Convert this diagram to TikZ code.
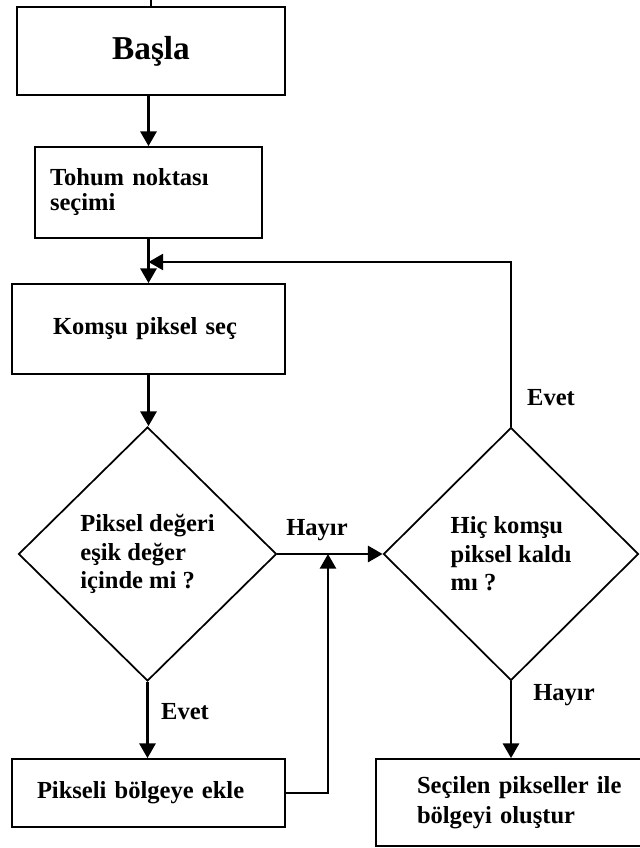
\documentclass[tikz,border=0pt]{standalone}
\usepackage{fontspec}
\setmainfont{Liberation Serif}
\usetikzlibrary{arrows.meta,shapes.geometric}
\begin{document}
\begin{tikzpicture}[x=0.75pt,y=-0.75pt,
  box/.style={draw, line width=1.3pt, inner sep=0pt, font=\bfseries\fontsize{18.4}{21}\selectfont},
  dia/.style={draw, diamond, line width=1.3pt, inner sep=0pt, align=left, font=\bfseries\fontsize{18.4}{21.4}\selectfont},
  conn/.style={line width=2pt, -{Triangle[width=12pt,length=11pt]}},
  lab/.style={font=\bfseries\fontsize{18.4}{21}\selectfont, inner sep=0pt}]
\useasboundingbox[fill=white] (0,0) rectangle (639,848);

% nodes
\node[box, minimum width=201pt, minimum height=66pt, font=\bfseries\fontsize{25}{30}\selectfont] (basla) at (151,51) {Başla};
\node[box, minimum width=170.25pt, minimum height=68.25pt, text width=147.75pt, align=left, font=\bfseries\fontsize{18.4}{18.75}\selectfont] (tohum) at (148.5,192.5) {Tohum noktası\\seçimi};
\node[box, minimum width=204.75pt, minimum height=67.5pt, text width=143.25pt, align=left] (komsu) at (148.5,329) {Komşu piksel seç};
\node[dia, minimum width=193.5pt, minimum height=190.5pt] (d1) at (147.5,554) {Piksel değeri\\eşik değer\\içinde mi ?};
\node[dia, minimum width=191.25pt, minimum height=189.75pt] (d2) at (511,554) {Hiç komşu\\piksel kaldı\\mı ?};
\node[box, minimum width=204.75pt, minimum height=51pt, text width=167.25pt, align=left] (pikseli) at (148.5,793) {Pikseli bölgeye ekle};
\node[box, minimum width=228pt, minimum height=65.25pt, text width=166.5pt, align=left, font=\bfseries\fontsize{18.4}{22.5}\selectfont] (secilen) at (528,802.5) {Seçilen pikseller ile\\bölgeyi oluştur};

% labels
\node[lab] (evet1) at (551,398) {Evet};
\node[lab] (evet2) at (185,712) {Evet};
\node[lab] (hayir1) at (317,530) {Hayır};
\node[lab] (hayir2) at (564,695) {Hayır};

% helper coordinates
\coordinate (jn) at (328,554);
\coordinate (fb) at (148.5,262);

% connectors
\draw[line width=1.2pt] (basla.north) -- ++(0,-7);
\draw[conn] (tohum.north |- basla.south) -- (tohum.north);
\draw[conn] (tohum.south) -- (komsu.north);
\draw[conn] (komsu.south) -- (komsu.south |- d1.north);
\draw[conn] (d1.east) -- (d1.east -| d2.west);
\draw[conn] (d1.south) -- (d1.south |- pikseli.north);
\draw[conn] (pikseli.east) -| (jn);
\draw[conn] (d2.north) -- (d2.north |- fb) -- (fb);
\draw[conn] (d2.south) -- (d2.south |- secilen.north);
\end{tikzpicture}
\end{document}
